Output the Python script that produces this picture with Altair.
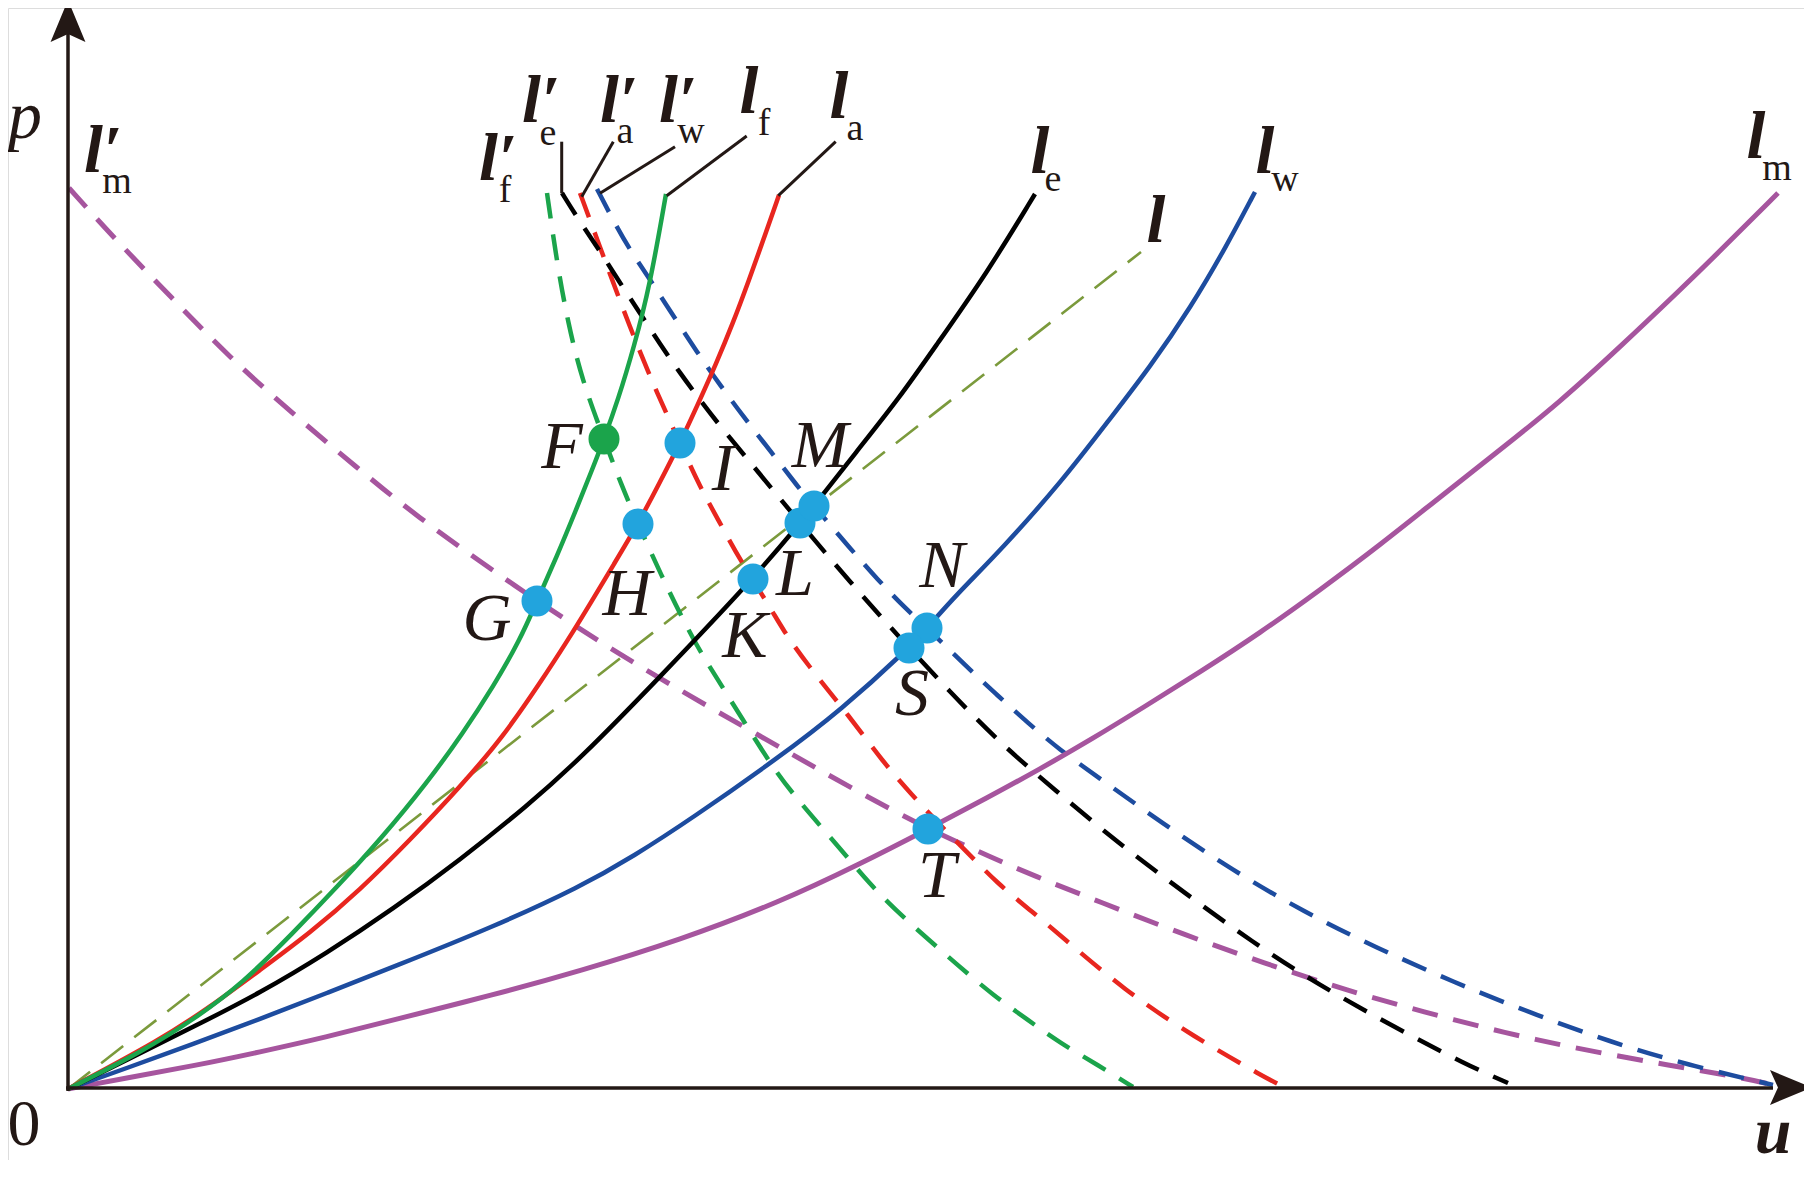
import altair as alt
import pandas as pd

W, H = 1796, 1152
XS = alt.Scale(domain=[-60, 1736], nice=False, zero=False)
YS = alt.Scale(domain=[-71, 1081], nice=False, zero=False)
FONT = "Liberation Serif"
INK = "#231815"
GREEN = "#1BA44B"
RED = "#E8261F"
BLACK = "#000000"
BLUE = "#1D4C9F"
PURPLE = "#A6559E"
OLIVE = "#7B9A3C"
CYAN = "#22A4DD"

# ---- solid curves (u, p) ----
lf_u = [0, 75, 125, 175, 225, 269, 312, 359, 395, 425, 452, 469, 489, 508, 524, 536, 550, 566, 582, 598]
lf_p = [0, 38, 69, 106, 156, 202, 249, 306, 356, 402, 449, 488, 533, 579, 619, 650, 689, 742, 804, 895]

la_u = [0, 92, 142, 192, 242, 292, 342, 392, 435, 472, 500, 522, 546, 570, 592, 612, 630, 648, 665, 681, 696, 711]
la_p = [0, 49, 82, 119, 156, 199, 249, 302, 352, 406, 449, 485, 525, 565, 607, 646, 685, 725, 766, 809, 851, 894]

le_u = [0, 59, 125, 192, 259, 325, 392, 459, 512, 589, 685, 732, 746, 789, 832, 867, 919, 967]
le_p = [0, 29, 62, 96, 136, 180, 229, 283, 330, 409, 510, 566, 583, 638, 692, 742, 816, 895]

lw_u = [0, 59, 125, 192, 259, 325, 425, 512, 566, 623, 710, 773, 841, 859, 890, 933, 995, 1041, 1082, 1123, 1158, 1187]
lw_p = [0, 21, 45, 70, 96, 122, 162, 202, 233, 270, 331, 379, 441, 461, 496, 539, 609, 669, 722, 782, 842, 897]

lm_u = [0, 59, 125, 192, 259, 325, 425, 512, 612, 712, 792, 860, 919, 972, 1024, 1076, 1132, 1192, 1252, 1312,
        1372, 1432, 1492, 1552, 1612, 1646, 1710]
lm_p = [0, 11, 23, 37, 52, 69, 94, 118, 149, 187, 225, 260, 291, 320, 350, 382, 417, 456, 499, 544,
        592, 639, 687, 742, 799, 832, 896]

l_u = [0, 1073]
l_p = [0, 837]

# ---- dashed curves (u, p) ----
lfd_u = [479, 489, 500, 514, 536, 553, 570, 600, 629, 652, 698, 721, 776, 801, 830, 893, 925, 960, 992, 1030, 1065]
lfd_p = [896, 826, 766, 709, 650, 605, 565, 499, 442, 406, 332, 299, 236, 206, 176, 121, 94, 69, 46, 24, 2]

lad_u = [512, 532, 549, 569, 589, 612, 632, 652, 672, 702, 715, 738, 782, 815, 844, 872, 900, 929, 962, 992,
         1056, 1126, 1198, 1216]
lad_p = [896, 842, 796, 744, 696, 646, 602, 566, 529, 482, 459, 426, 372, 327, 294, 264, 236, 206, 179, 154,
         99, 52, 11, 2]

led_u = [494, 512, 532, 552, 572, 592, 612, 632, 652, 682, 732, 782, 832, 882, 932, 987, 1050, 1117, 1184,
         1251, 1326, 1399, 1440]
led_p = [896, 867, 838, 806, 776, 745, 716, 689, 663, 627, 566, 507, 451, 397, 346, 299, 246, 196, 147,
         104, 62, 24, 6]

lwd_u = [529, 544, 560, 583, 606, 629, 652, 678, 704, 730, 746, 781, 810, 837, 859, 899, 929, 960, 992, 1027,
         1094, 1164, 1236, 1309, 1385, 1463, 1542, 1620, 1705]
lwd_p = [900, 871, 842, 808, 772, 737, 704, 669, 636, 602, 583, 542, 509, 481, 461, 422, 394, 366, 339, 314,
         266, 219, 177, 141, 107, 76, 47, 24, 4]

lmd_u = [1, 46, 104, 161, 224, 288, 351, 420, 469, 537, 594, 692, 790, 860, 925, 964, 1032, 1117, 1196, 1277,
         1356, 1437, 1516, 1600, 1676, 1714]
lmd_p = [901, 851, 791, 732, 676, 622, 571, 522, 488, 444, 409, 353, 297, 260, 231, 214, 187, 154, 126, 99,
         77, 56, 39, 24, 11, 2]

# ---- intersection points ----
mk_names = ["F", "I", "H", "G", "K", "L", "M", "N", "S", "T"]
mk_u = [536, 612, 570, 469, 685, 732, 746, 859, 841, 860]
mk_p = [650, 646, 565, 488, 510, 566, 583, 461, 441, 260]

# ---- point labels ----
pt_text = ["F", "I", "M", "H", "L", "G", "K", "N", "S", "T"]
pt_u = [494, 655, 752, 559, 727, 419, 677, 874, 844, 869]
pt_p = [621, 599, 622, 474, 494, 449, 432, 502, 374, 192]

# ---- curve labels: main letter and subscript ----
cl_text = ["l′", "l′", "l′", "l′", "l", "l", "l′", "l", "l", "l", "l"]
cl_u = [430, 473, 551, 610, 681, 771, 35, 972, 1197, 1088, 1688]
cl_p = [909, 967, 967, 967, 976, 971, 917, 916, 916, 847, 931]
sub_text = ["f", "e", "a", "w", "f", "a", "m", "e", "w", "m"]
sub_u = [437, 480, 557, 623, 696, 787, 49, 985, 1217, 1709]
sub_p = [887, 944, 946, 946, 954, 949, 896, 898, 898, 909]

# ---- leader lines ----
ld_u = [493.7, 545.3, 607, 678.7, 767.7]
ld_p = [947.3, 947.3, 942.3, 953, 947.3]
ld_u2 = [493.7, 513.7, 532, 598.7, 710.3]
ld_p2 = [895.7, 892.3, 895.7, 893.3, 893.3]

ARROW = "M0,-1L0.83,1L0,0.62L-0.83,1Z"

enc_xy = dict(x=alt.X("u:Q", scale=XS, axis=None), y=alt.Y("p:Q", scale=YS, axis=None))


def line_layer(u, p, color, width, dash=None, interp="basis"):
    df = pd.DataFrame({"u": u, "p": p, "i": list(range(len(u)))})
    kw = dict(color=color, strokeWidth=width, interpolate=interp, strokeCap="butt")
    if dash:
        kw["strokeDash"] = dash
    return alt.Chart(df).mark_line(**kw).encode(order="i:Q", **enc_xy)


def text_layer(u, p, t, size, style="normal", weight="normal"):
    df = pd.DataFrame({"u": u, "p": p, "t": t})
    return alt.Chart(df).mark_text(font=FONT, fontSize=size, fontStyle=style, fontWeight=weight,
                                   color=INK, align="center", baseline="alphabetic").encode(
        text="t:N", **enc_xy)


layers = []
layers.append(line_layer(l_u, l_p, OLIVE, 2.6, [28, 14], "linear"))
DASH = [26, 16]
layers.append(line_layer(lmd_u, lmd_p, PURPLE, 5, DASH))
layers.append(line_layer(lfd_u, lfd_p, GREEN, 4.5, DASH))
layers.append(line_layer(lad_u, lad_p, RED, 4.5, DASH))
layers.append(line_layer(led_u, led_p, BLACK, 4.5, DASH))
layers.append(line_layer(lwd_u, lwd_p, BLUE, 4.5, DASH))
layers.append(line_layer(lm_u, lm_p, PURPLE, 5))
layers.append(line_layer(lw_u, lw_p, BLUE, 4.5))
layers.append(line_layer(le_u, le_p, BLACK, 4.5))
layers.append(line_layer(la_u, la_p, RED, 4.5))
layers.append(line_layer(lf_u, lf_p, GREEN, 4.5))

ld_df = pd.DataFrame({"u": ld_u, "p": ld_p, "u2": ld_u2, "p2": ld_p2})
layers.append(alt.Chart(ld_df).mark_rule(color=INK, strokeWidth=3).encode(
    x2="u2:Q", y2="p2:Q", **enc_xy))

ax_df = pd.DataFrame({"u": [0, -2], "p": [-2, 1], "u2": [0, 1705], "p2": [1055, 1]})
layers.append(alt.Chart(ax_df).mark_rule(color=INK, strokeWidth=3.5).encode(
    x2="u2:Q", y2="p2:Q", **enc_xy))

ay_df = pd.DataFrame({"u": [0], "p": [1068]})
layers.append(alt.Chart(ay_df).mark_point(shape=ARROW, size=1764, filled=True, color=INK,
                                          opacity=1, strokeWidth=0).encode(**enc_xy))
axx_df = pd.DataFrame({"u": [1723], "p": [1.5]})
layers.append(alt.Chart(axx_df).mark_point(shape=ARROW, size=1764, filled=True, color=INK,
                                           opacity=1, strokeWidth=0, angle=90).encode(**enc_xy))

mk_df = pd.DataFrame({"u": mk_u, "p": mk_p, "n": mk_names})
layers.append(alt.Chart(mk_df).transform_filter(alt.datum.n != "F").mark_point(
    shape="circle", size=962, filled=True, color=CYAN, opacity=1, strokeWidth=0).encode(**enc_xy))
layers.append(alt.Chart(mk_df).transform_filter(alt.datum.n == "F").mark_point(
    shape="circle", size=962, filled=True, color=GREEN, opacity=1, strokeWidth=0).encode(**enc_xy))

layers.append(text_layer(pt_u, pt_p, pt_text, 68, style="italic"))
layers.append(text_layer(cl_u, cl_p, cl_text, 68, style="italic", weight="bold"))
layers.append(text_layer(sub_u, sub_p, sub_text, 38))

layers.append(text_layer([-43], [951], ["p"], 68, style="italic"))
layers.append(text_layer([-44], [-56], ["0"], 66))
layers.append(text_layer([1705], [-64], ["u"], 66, style="italic", weight="bold"))

chart = alt.layer(*layers).properties(
    width=W, height=H, autosize=alt.AutoSizeParams(type="none"), padding=0
).configure_view(stroke=None).configure(background="white")

chart.save("out.html", embed_options={"renderer": "svg", "actions": False})
